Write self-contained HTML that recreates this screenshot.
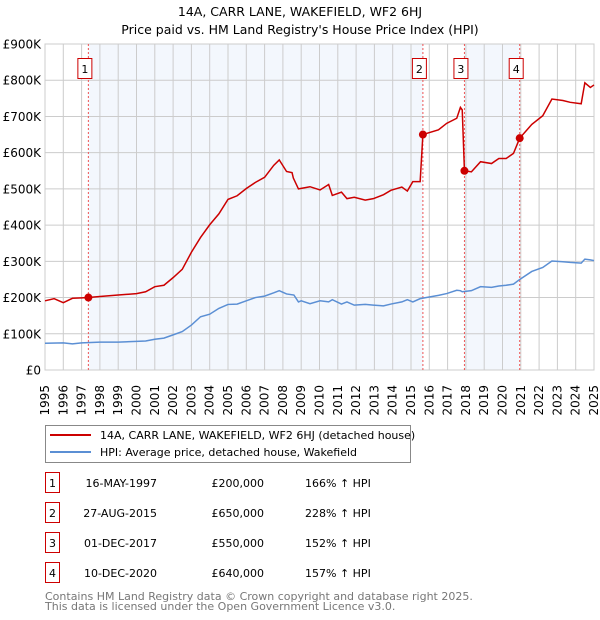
<!DOCTYPE html>
<html><head><meta charset="utf-8"><style>
body{margin:0;background:#fff;font-family:"DejaVu Sans","Liberation Sans",sans-serif;}
svg text{font-family:"DejaVu Sans","Liberation Sans",sans-serif;}
#wrap{position:relative;width:600px;height:620px;}
.xl{position:absolute;font-size:12px;line-height:12px;white-space:nowrap;writing-mode:vertical-rl;transform:rotate(180deg);height:34px;text-align:right;}
@supports (writing-mode:sideways-lr){.xl{writing-mode:sideways-lr;transform:none;text-align:left;}}
</style></head><body>
<div id="wrap">
<svg id="chart" width="600" height="620" viewBox="0 0 600 620" xmlns="http://www.w3.org/2000/svg" style="position:absolute;left:0;top:0">
<text x="300" y="16" text-anchor="middle" font-size="12.5" fill="#000">14A, CARR LANE, WAKEFIELD, WF2 6HJ</text>
<text x="300" y="34" text-anchor="middle" font-size="12.5" fill="#000">Price paid vs. HM Land Registry's House Price Index (HPI)</text>
<g id="plot"></g>
<g>
<rect x="45.5" y="425.5" width="365" height="37" fill="#fff" stroke="#888"/>
<line x1="50" y1="435" x2="91" y2="435" stroke="#cc0000" stroke-width="2"/>
<text x="100" y="439" font-size="11">14A, CARR LANE, WAKEFIELD, WF2 6HJ (detached house)</text>
<line x1="50" y1="452" x2="91" y2="452" stroke="#5b8fd4" stroke-width="2"/>
<text x="100" y="456" font-size="11">HPI: Average price, detached house, Wakefield</text>
</g>
<g id="table" font-size="11"></g>
<text x="45" y="600" font-size="11" fill="#777">Contains HM Land Registry data © Crown copyright and database right 2025.</text>
<text x="45" y="610" font-size="11" fill="#777">This data is licensed under the Open Government Licence v3.0.</text>
</svg>
</div>
<script>
const yearTicks=[1995,1996,1997,1998,1999,2000,2001,2002,2003,2004,2005,2006,2007,2008,2009,2010,2011,2012,2013,2014,2015,2016,2017,2018,2019,2020,2021,2022,2023,2024,2025];
const yTicks=[0,100,200,300,400,500,600,700,800,900];
const yTickLabels=["£0","£100K","£200K","£300K","£400K","£500K","£600K","£700K","£800K","£900K"];
const hpiYears=[1995,1996,1996.5,1997,1998,1999,2000,2000.5,2001,2001.5,2002,2002.5,2003,2003.5,2004,2004.5,2005,2005.5,2006,2006.5,2007,2007.5,2007.8,2008.2,2008.6,2008.85,2009,2009.48,2010.03,2010.5,2010.7,2011.2,2011.5,2011.9,2012.5,2012.94,2013.5,2013.9,2014.5,2014.8,2015.1,2015.5,2016.5,2016.95,2017.5,2017.7,2017.8,2018.3,2018.8,2019.4,2019.8,2020.2,2020.6,2020.94,2021.6,2022.2,2022.7,2023.3,2023.7,2024.3,2024.5,2024.8,2025];
const hpiValues=[74,75,72,75,77,77,79,80,85,88,97,106,124,147,154,170,181,182,191,200,204,213,219,210,207,188,191,183,191,188,194,182,188,179,181,179,177,182,188,194,188,197,206,211,220,219,216,219,230,228,232,234,237,250,272,283,301,299,297,295,306,304,302];
const priceYears=[1995,1995.5,1996,1996.5,1997,1997.37,1998,1999,2000,2000.5,2001,2001.5,2002,2002.5,2003,2003.5,2004,2004.5,2005,2005.5,2006,2006.5,2007,2007.5,2007.8,2008.2,2008.5,2008.57,2008.85,2009.48,2010.03,2010.5,2010.7,2011.2,2011.5,2011.9,2012.5,2012.94,2013.5,2013.9,2014.5,2014.8,2015.1,2015.5,2015.65,2016.5,2016.95,2017.5,2017.7,2017.8,2017.92,2018.3,2018.8,2019.4,2019.8,2020.2,2020.6,2020.94,2021.6,2022.2,2022.7,2023.3,2023.7,2024.3,2024.5,2024.8,2025];
const priceValues=[191,197,186,198,199,200,203,207,211,216,230,234,255,278,325,366,401,431,471,481,501,518,532,565,580,548,545,530,500,506,497,512,482,491,473,477,469,473,484,496,505,494,520,520,650,663,681,695,725,718,550,547,575,570,584,584,598,640,678,702,748,744,739,735,793,780,787];
const saleLabels=["1","2","3","4"];
const saleYears=[1997.37,2015.65,2017.92,2020.94];
const saleValues=[200,650,550,640];
const saleDates=["16-MAY-1997","27-AUG-2015","01-DEC-2017","10-DEC-2020"];
const salePrices=["£200,000","£650,000","£550,000","£640,000"];
const salePcts=["166% ↑ HPI","228% ↑ HPI","152% ↑ HPI","157% ↑ HPI"];

const X0=45,X1=594,Y0=370,Y1=44;
const xs=y=>X0+(y-1995)/30*(X1-X0);
const ys=v=>Y0-v/900*(Y0-Y1);
const NS="http://www.w3.org/2000/svg";
const plot=document.getElementById('plot');
const wrap=document.getElementById('wrap');
function mk(tag,attrs,parent){const e=document.createElementNS(NS,tag);for(const k in attrs)e.setAttribute(k,attrs[k]);(parent||plot).appendChild(e);return e;}

let bg=mk('rect',{x:X0,y:Y1,width:X1-X0,height:Y0-Y1,fill:'#fff'});


const shades=[[0,1],[2,3]];
shades.forEach((p,i)=>{
  let r=mk('rect',{x:xs(saleYears[p[0]]),y:Y1,width:xs(saleYears[p[1]])-xs(saleYears[p[0]]),height:Y0-Y1,fill:'#eef3fc',opacity:0.7});
  
  
});
yearTicks.forEach(t=>{
  let l=mk('line',{x1:xs(t),x2:xs(t),y1:Y1,y2:Y0,stroke:'#ccc','stroke-width':1});
  
  
  const d=document.createElement('div');
  d.className='xl';
  d.textContent=t;
  d.style.left=(xs(t)-6)+'px';
  d.style.top=(Y0+12)+'px';
  
  
  wrap.appendChild(d);
});
yTicks.forEach((t,i)=>{
  let l=mk('line',{x1:X0,x2:X1,y1:ys(t),y2:ys(t),stroke:'#ccc','stroke-width':1});
  
  
  let tx=mk('text',{x:X0-4,y:ys(t)+4.5,'font-size':12,'text-anchor':'end'});
  tx.textContent=yTickLabels[i];
  
  
});
let border=mk('rect',{x:X0,y:Y1,width:X1-X0,height:Y0-Y1,fill:'none',stroke:'#ccc'});


saleYears.forEach((y,i)=>{
  let l=mk('line',{x1:xs(y),x2:xs(y),y1:Y1,y2:Y0,stroke:'#ee5555','stroke-width':1,'stroke-dasharray':'2,2'});
  
  
  let b=mk('rect',{x:xs(y)-10.5,y:58.5,width:14,height:20,fill:'#fff',stroke:'#cc0000'});
  
  
  let t=mk('text',{x:xs(y)-3.5,y:73,'font-size':11,'text-anchor':'middle'});
  t.textContent=saleLabels[i];
  
  
});
let hp=mk('polyline',{points:hpiYears.map((y,i)=>xs(y)+','+ys(hpiValues[i])).join(' '),fill:'none',stroke:'#5b8fd4','stroke-width':1.5});


let pp=mk('polyline',{points:priceYears.map((y,i)=>xs(y)+','+ys(priceValues[i])).join(' '),fill:'none',stroke:'#cc0000','stroke-width':1.5});


saleYears.forEach((y,i)=>{
  let c=mk('circle',{cx:xs(y),cy:ys(saleValues[i]),r:4,fill:'#cc0000'});
  
  
});
const tbl=document.getElementById('table');
saleLabels.forEach((s,i)=>{
  const cy=483+i*30;
  let b=mk('rect',{x:45.5,y:cy-10.5,width:14,height:20,fill:'#fff',stroke:'#cc0000'},tbl);
  
  
  let t=mk('text',{x:52.5,y:cy+4,'text-anchor':'middle'},tbl);t.textContent=s;
  
  
  let d=mk('text',{x:157,y:cy+4,'text-anchor':'end'},tbl);d.textContent=saleDates[i];
  
  
  let p=mk('text',{x:264,y:cy+4,'text-anchor':'end'},tbl);p.textContent=salePrices[i];
  
  
  let h=mk('text',{x:305,y:cy+4},tbl);h.textContent=salePcts[i];
  
  
});
</script>
</body></html>
